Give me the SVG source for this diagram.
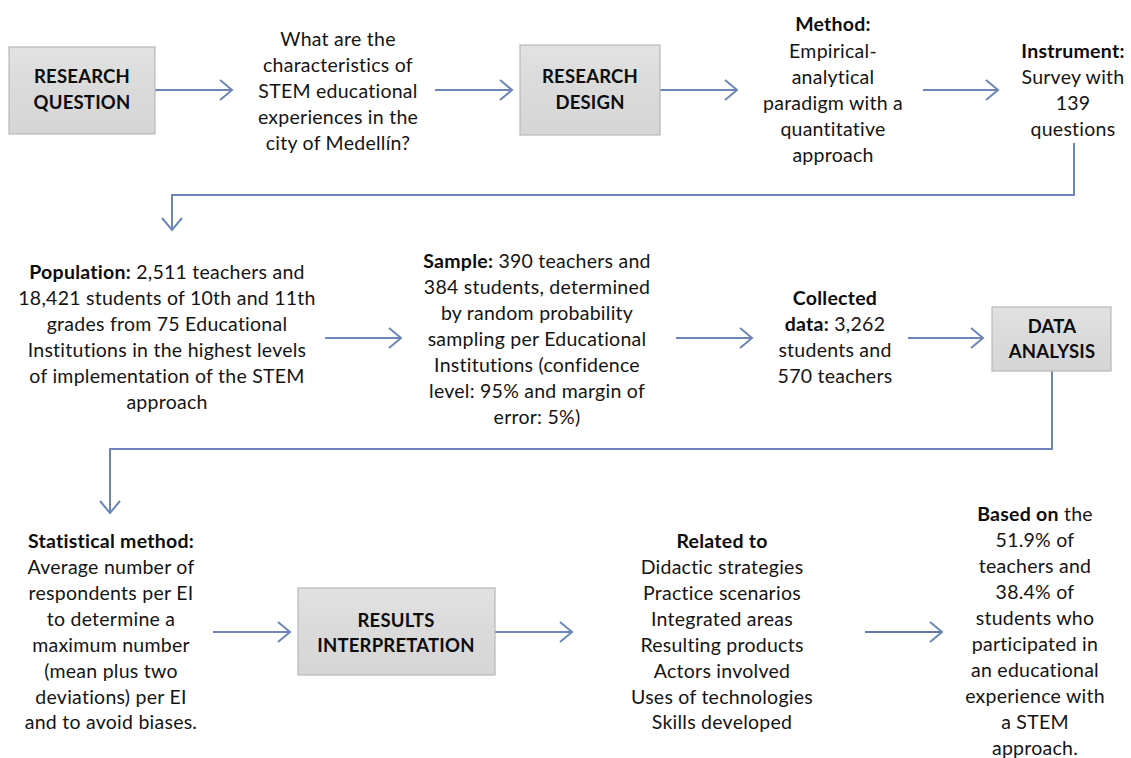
<svg xmlns="http://www.w3.org/2000/svg" width="1131" height="758" viewBox="0 0 1131 758">
<style>
text{font-family:Lato,"Open Sans","Liberation Sans",sans-serif;font-size:19.5px;letter-spacing:0.25px;fill:#141414;text-anchor:middle}
.b{font-weight:bold;fill:#0d0d0d}
.bx{font-size:18.5px;letter-spacing:0.2px}
.box{fill:url(#g);stroke:#b8b8b8;stroke-width:1.2}
.c{fill:none;stroke:#6d85b9;stroke-width:2}
</style>
<defs>
<linearGradient id="g" x1="0" y1="0" x2="0" y2="1">
<stop offset="0" stop-color="#e2e2e2"/>
<stop offset="0.5" stop-color="#dadada"/>
<stop offset="1" stop-color="#d6d6d6"/>
</linearGradient>
<marker id="a" markerUnits="userSpaceOnUse" markerWidth="16" markerHeight="24" refX="13" refY="11" orient="auto" overflow="visible">
<path d="M1,1 L13,11 L1,21" fill="none" stroke="#6d85b9" stroke-width="2"/>
</marker>
</defs>

<g id="connectors">
<line class="c" x1="155" y1="90" x2="232" y2="90" marker-end="url(#a)"/>
<line class="c" x1="435" y1="90" x2="512" y2="90" marker-end="url(#a)"/>
<line class="c" x1="660" y1="90" x2="737" y2="90" marker-end="url(#a)"/>
<line class="c" x1="923" y1="90" x2="998" y2="90" marker-end="url(#a)"/>
<polyline class="c" points="1074,143 1074,195 172,195 172,230" marker-end="url(#a)"/>
<line class="c" x1="325" y1="338" x2="401" y2="338" marker-end="url(#a)"/>
<line class="c" x1="676" y1="338" x2="752" y2="338" marker-end="url(#a)"/>
<line class="c" x1="908" y1="338" x2="983" y2="338" marker-end="url(#a)"/>
<polyline class="c" points="1052,371 1052,449 110,449 110,513" marker-end="url(#a)"/>
<line class="c" x1="213" y1="632" x2="290" y2="632" marker-end="url(#a)"/>
<line class="c" x1="495" y1="632" x2="572" y2="632" marker-end="url(#a)"/>
<line class="c" x1="865" y1="632" x2="942" y2="632" marker-end="url(#a)" style="stroke:#5f78ab"/>
</g>

<g id="research-question">
<rect class="box" x="9" y="47" width="146" height="87"/>
<text class="b bx" x="82" y="83">RESEARCH</text>
<text class="b bx" x="82" y="109">QUESTION</text>
</g>

<g id="question">
<text x="338" y="46">What are the</text>
<text x="338" y="72">characteristics of</text>
<text x="338" y="98">STEM educational</text>
<text x="338" y="124">experiences in the</text>
<text x="338" y="150">city of Medellín?</text>
</g>

<g id="research-design">
<rect class="box" x="520" y="45" width="140" height="90"/>
<text class="b bx" x="590" y="83">RESEARCH</text>
<text class="b bx" x="590" y="109">DESIGN</text>
</g>

<g id="method">
<text class="b" x="833" y="31">Method:</text>
<text x="833" y="58">Empirical-</text>
<text x="833" y="84">analytical</text>
<text x="833" y="110">paradigm with a</text>
<text x="833" y="136">quantitative</text>
<text x="833" y="162">approach</text>
</g>

<g id="instrument">
<text class="b" x="1073" y="58">Instrument:</text>
<text x="1073" y="84">Survey with</text>
<text x="1073" y="110">139</text>
<text x="1073" y="136">questions</text>
</g>

<g id="population">
<text x="167" y="279"><tspan class="b">Population:</tspan> 2,511 teachers and</text>
<text x="167" y="305">18,421 students of 10th and 11th</text>
<text x="167" y="331">grades from 75 Educational</text>
<text x="167" y="357">Institutions in the highest levels</text>
<text x="167" y="383">of implementation of the STEM</text>
<text x="167" y="409">approach</text>
</g>

<g id="sample">
<text x="537" y="268"><tspan class="b">Sample:</tspan> 390 teachers and</text>
<text x="537" y="294">384 students, determined</text>
<text x="537" y="320">by random probability</text>
<text x="537" y="346">sampling per Educational</text>
<text x="537" y="372">Institutions (confidence</text>
<text x="537" y="398">level: 95% and margin of</text>
<text x="537" y="424">error: 5%)</text>
</g>

<g id="collected">
<text class="b" x="835" y="305">Collected</text>
<text x="835" y="331"><tspan class="b">data:</tspan> 3,262</text>
<text x="835" y="357">students and</text>
<text x="835" y="383">570 teachers</text>
</g>

<g id="data-analysis">
<rect class="box" x="992" y="307" width="119" height="64"/>
<text class="b bx" x="1052" y="333">DATA</text>
<text class="b bx" x="1052" y="358">ANALYSIS</text>
</g>

<g id="statistical">
<text class="b" x="111" y="548">Statistical method:</text>
<text x="111" y="574">Average number of</text>
<text x="111" y="600">respondents per EI</text>
<text x="111" y="626">to determine a</text>
<text x="111" y="652">maximum number</text>
<text x="111" y="678">(mean plus two</text>
<text x="111" y="704">deviations) per EI</text>
<text x="111" y="729">and to avoid biases.</text>
</g>

<g id="results-interpretation">
<rect class="box" x="298" y="588" width="197" height="87"/>
<text class="b bx" x="396" y="627">RESULTS</text>
<text class="b bx" x="396" y="652">INTERPRETATION</text>
</g>

<g id="related">
<text class="b" x="722" y="548">Related to</text>
<text x="722" y="574">Didactic strategies</text>
<text x="722" y="600">Practice scenarios</text>
<text x="722" y="626">Integrated areas</text>
<text x="722" y="652">Resulting products</text>
<text x="722" y="678">Actors involved</text>
<text x="722" y="704">Uses of technologies</text>
<text x="722" y="729">Skills developed</text>
</g>

<g id="based-on">
<text x="1035" y="521"><tspan class="b">Based on</tspan> the</text>
<text x="1035" y="547">51.9% of</text>
<text x="1035" y="573">teachers and</text>
<text x="1035" y="599">38.4% of</text>
<text x="1035" y="625">students who</text>
<text x="1035" y="651">participated in</text>
<text x="1035" y="677">an educational</text>
<text x="1035" y="703">experience with</text>
<text x="1035" y="729">a STEM</text>
<text x="1035" y="755">approach.</text>
</g>
</svg>
